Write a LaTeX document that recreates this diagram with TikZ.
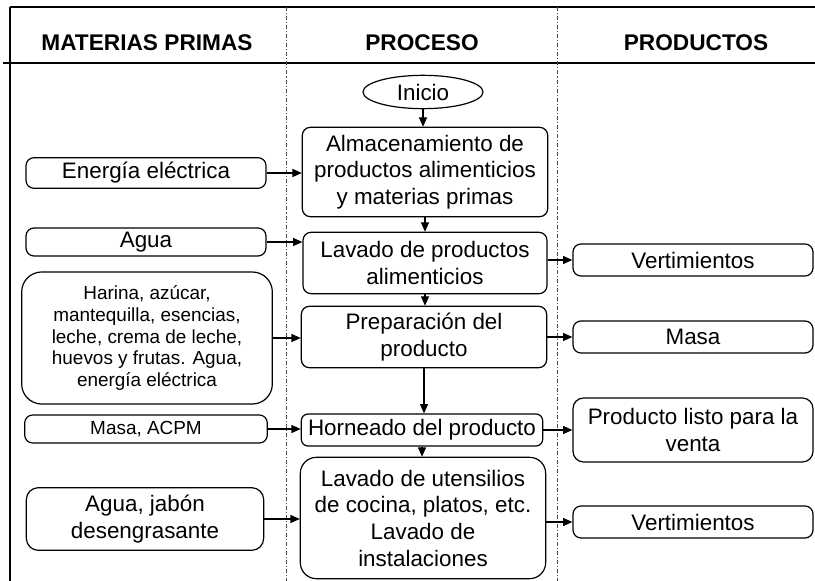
\documentclass[tikz,border=0pt]{standalone}
\usepackage{fontspec}
\setmainfont{Liberation Sans}
\usepackage{tikz}
\usetikzlibrary{shapes,arrows.meta,positioning}

\begin{document}
\begin{tikzpicture}[
    x=0.75pt, y=-0.75pt,
    >={Triangle[length=7pt,width=6pt]},
    every path/.style={line width=0.9pt},
    box/.style={rectangle, draw, rounded corners=6pt, align=center, inner sep=1pt,
        font=\fontsize{16.8}{20}\selectfont},
    smallbox/.style={box, font=\fontsize{14.2}{16.2}\selectfont},
    head/.style={font=\fontsize{17}{20}\selectfont\bfseries},
    lane/.style={line width=0.5pt, black!70, dash pattern=on 3pt off 1.5pt on 0.8pt off 1.5pt},
]
    \useasboundingbox (0,0) rectangle (815,581);

    % frame and lanes
    \draw (10,7) -- (815,7);
    \draw (10,7) -- (10,581);
    \draw (3,63) -- (815,63);
    \draw[lane] (286,7) -- (286,581);
    \draw[lane] (557,7) -- (557,581);

    \node[head] (hmat) at (147,43) {MATERIAS PRIMAS};
    \node[head] (hpro) at (422,43) {PROCESO};
    \node[head] (hprd) at (696,43) {PRODUCTOS};

    % proceso
    \node[draw, ellipse, minimum width=90pt, minimum height=25pt, inner sep=0pt,
        font=\fontsize{16.8}{20}\selectfont] (inicio) at (423,92) {Inicio};
    \node[box, minimum width=184pt, minimum height=67pt] (almacen) at (425,172)
        {Almacenamiento de\\productos alimenticios\\y materias primas};
    \node[box, minimum width=183pt, minimum height=46pt] (lavado) at (425,263)
        {Lavado de productos\\alimenticios};
    \node[box, minimum width=184pt, minimum height=46pt] (prep) at (424,337)
        {Preparación del\\producto};
    \node[box, rounded corners=5pt, minimum width=181pt, minimum height=24pt] (horneado) at (422,430)
        {Horneado del producto};
    \node[box, rounded corners=12pt, minimum width=184pt, minimum height=91pt] (utensilios) at (423,518)
        {Lavado de utensilios\\de cocina, platos, etc.\\Lavado de\\instalaciones};

    % materias primas
    \node[box, minimum width=180pt, minimum height=23pt] (energia) at (146,173) {Energía eléctrica};
    \node[box, minimum width=180pt, minimum height=21pt] (agua) at (146,242) {Agua};
    \node[smallbox, rounded corners=15pt, minimum width=188pt, minimum height=99pt] (harina) at (147,338)
        {Harina, azúcar,\\mantequilla, esencias,\\leche, crema de leche,\\huevos y frutas. Agua,\\energía eléctrica};
    \node[smallbox, minimum width=182pt, minimum height=21pt] (acpm) at (146,429) {Masa, ACPM};
    \node[box, rounded corners=9pt, minimum width=178pt, minimum height=47pt] (agua2) at (145,519)
        {Agua, jabón\\desengrasante};

    % productos
    \node[box, minimum width=180pt, minimum height=24pt] (vert1) at (693,260) {Vertimientos};
    \node[box, minimum width=180pt, minimum height=24pt] (masa) at (693,337) {Masa};
    \node[box, rounded corners=8pt, minimum width=180pt, minimum height=48pt] (listo) at (693,430)
        {Producto listo para la\\venta};
    \node[box, minimum width=180pt, minimum height=24pt] (vert2) at (693,522) {Vertimientos};

    % flujo principal
    \draw[->] (inicio.south) -- (inicio.south |- almacen.north);
    \draw[->] (almacen.south) -- (almacen.south |- lavado.north);
    \draw[->] (lavado.south) -- (lavado.south |- prep.north);
    \draw[->] (prep.south) -- (prep.south |- horneado.north);
    \draw[->] (horneado.south) -- (horneado.south |- utensilios.north);

    % entradas
    \draw[->] (energia.east) -- (energia.east -| almacen.west);
    \draw[->] (agua.east) -- (agua.east -| lavado.west);
    \draw[->] (harina.east) -- (harina.east -| prep.west);
    \draw[->] (acpm.east) -- (acpm.east -| horneado.west);
    \draw[->] (agua2.east) -- (agua2.east -| utensilios.west);

    % salidas
    \draw[->] (vert1.west -| lavado.east) -- (vert1.west);
    \draw[->] (masa.west -| prep.east) -- (masa.west);
    \draw[->] (listo.west -| horneado.east) -- (listo.west);
    \draw[->] (vert2.west -| utensilios.east) -- (vert2.west);
\end{tikzpicture}
\end{document}
